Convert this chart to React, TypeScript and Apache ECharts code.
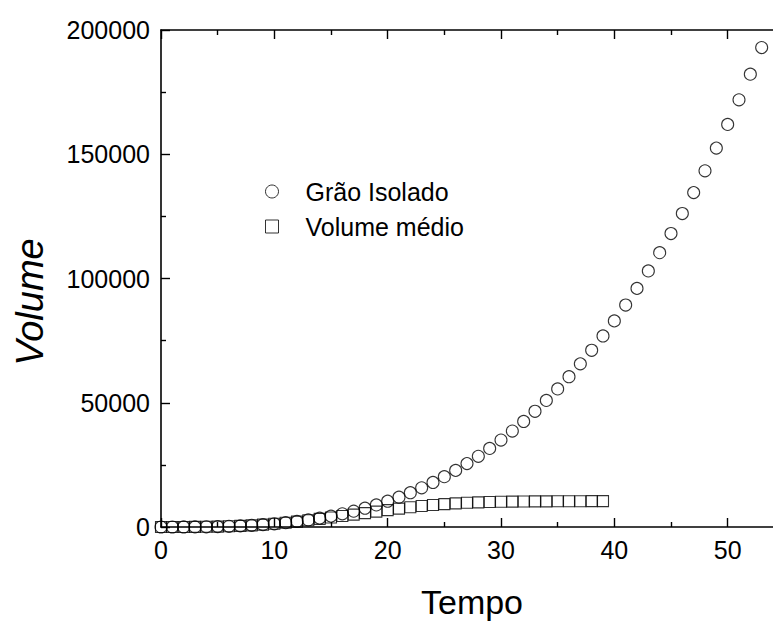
import React, { useEffect, useRef } from "react";
import * as echarts from "echarts";

const tempoIsolado = [
  0, 1, 2, 3, 4, 5, 6, 7, 8, 9, 10, 11, 12, 13, 14, 15, 16, 17, 18, 19, 20,
  21, 22, 23, 24, 25, 26, 27, 28, 29, 30, 31, 32, 33, 34, 35, 36, 37, 38, 39,
  40, 41, 42, 43, 44, 45, 46, 47, 48, 49, 50, 51, 52, 53,
];
const volumeIsolado = [
  0, 1, 10, 35, 83, 162, 280, 445, 664, 945, 1300, 1730, 2240, 2850, 3560,
  4370, 5310, 6370, 7560, 8890, 10370, 12000, 13800, 15770, 17920, 20250,
  22780, 25510, 28450, 31610, 34990, 38610, 42470, 46570, 50940, 55570, 60470,
  65650, 71110, 76880, 82940, 89320, 96020, 103040, 110400, 118100, 126150,
  134560, 143330, 152470, 162000, 171910, 182220, 192930,
];
const tempoMedio = [
  0, 1, 2, 3, 4, 5, 6, 7, 8, 9, 10, 11, 12, 13, 14, 15, 16, 17, 18, 19, 20,
  21, 22, 23, 24, 25, 26, 27, 28, 29, 30, 31, 32, 33, 34, 35, 36, 37, 38, 39,
];
const volumeMedio = [
  0, 1, 10, 35, 83, 162, 280, 445, 664, 940, 1290, 1700, 2180, 2700, 3250,
  3800, 4400, 5000, 5600, 6200, 6800, 7400, 7950, 8450, 8850, 9200, 9500,
  9750, 9900, 10050, 10150, 10200, 10250, 10300, 10300, 10350, 10350, 10350,
  10400, 10400,
];
const xTickLabels = ["0", "10", "20", "30", "40", "50"];
const seriesNames = ["Grão Isolado", "Volume médio"];
const xTitle = "Tempo";
const yTitle = "Volume";

const FONT = '"Liberation Sans", Arial, sans-serif';

export default function App() {
  const ref = useRef<HTMLDivElement>(null);
  useEffect(() => {
    if (!ref.current) return;
    const chart = echarts.init(ref.current, undefined, { renderer: "svg" });
    const axisLine = { show: true, lineStyle: { color: "#000", width: 1.6 } };
    const xCommon = {
      type: "value",
      min: 0,
      max: 60,
      interval: 10,
      axisLine,
      axisTick: { show: true, inside: true, length: 9, lineStyle: { color: "#000", width: 1.4 } },
      minorTick: { show: true, splitNumber: 2, length: 5, lineStyle: { color: "#000", width: 1.4 } },
      splitLine: { show: false },
      minorSplitLine: { show: false },
    };
    chart.setOption({
      animation: false,
      backgroundColor: "#fff",
      grid: { left: 161, top: 30, width: 680, height: 497, containLabel: false },
      legend: {
        orient: "vertical",
        left: 260,
        top: 174,
        itemWidth: 13,
        itemHeight: 13,
        itemGap: 10,
        textStyle: { fontFamily: FONT, fontSize: 25, color: "#000", padding: [0, 0, 0, 22] },
        data: [
          { name: seriesNames[0], icon: "circle", itemStyle: { color: "transparent", borderColor: "#000", borderWidth: 1 } },
          { name: seriesNames[1], icon: "rect", itemStyle: { color: "transparent", borderColor: "#000", borderWidth: 1 } },
        ],
      },
      xAxis: [
        {
          ...xCommon,
          position: "bottom",
          axisLabel: {
            show: true,
            margin: 10,
            fontFamily: FONT,
            fontSize: 25,
            color: "#000",
            formatter: (v: number) => (xTickLabels.includes(String(v)) ? String(v) : ""),
          },
        },
        { ...xCommon, position: "top", axisLabel: { show: false } },
      ],
      yAxis: [
        {
          type: "value",
          min: 0,
          max: 200000,
          interval: 50000,
          axisLine,
          axisTick: { show: true, inside: true, length: 9, lineStyle: { color: "#000", width: 1.4 } },
          minorTick: { show: true, splitNumber: 2, length: 5, lineStyle: { color: "#000", width: 1.4 } },
          splitLine: { show: false },
          axisLabel: {
            margin: 11,
            fontFamily: FONT,
            fontSize: 25,
            color: "#000",
            formatter: (v: number) => String(v),
          },
        },
      ],
      graphic: [
        {
          type: "text",
          x: 472,
          y: 602,
          style: {
            text: xTitle,
            font: `34px ${FONT}`,
            fill: "#000",
            textAlign: "center",
            textVerticalAlign: "middle",
          },
        },
        {
          type: "text",
          x: 30,
          y: 302,
          rotation: Math.PI / 2,
          style: {
            text: yTitle,
            font: `italic 38px ${FONT}`,
            fill: "#000",
            textAlign: "center",
            textVerticalAlign: "middle",
          },
        },
      ],
      series: [
        {
          name: seriesNames[1],
          type: "scatter",
          symbol: "rect",
          symbolSize: 11,
          itemStyle: { color: "transparent", borderColor: "#000", borderWidth: 1.1 },
          data: tempoMedio.map((t, i) => [t, volumeMedio[i]]),
        },
        {
          name: seriesNames[0],
          type: "scatter",
          symbol: "circle",
          symbolSize: 12,
          itemStyle: { color: "transparent", borderColor: "#000", borderWidth: 1.1 },
          data: tempoIsolado.map((t, i) => [t, volumeIsolado[i]]),
        },
      ],
    });
    return () => chart.dispose();
  }, []);
  return (
    <div
      style={{
        position: "fixed",
        left: 0,
        top: 0,
        width: 773,
        height: 624,
        overflow: "hidden",
        background: "#fff",
      }}
    >
      <div ref={ref} style={{ width: 900, height: 624 }} />
    </div>
  );
}
